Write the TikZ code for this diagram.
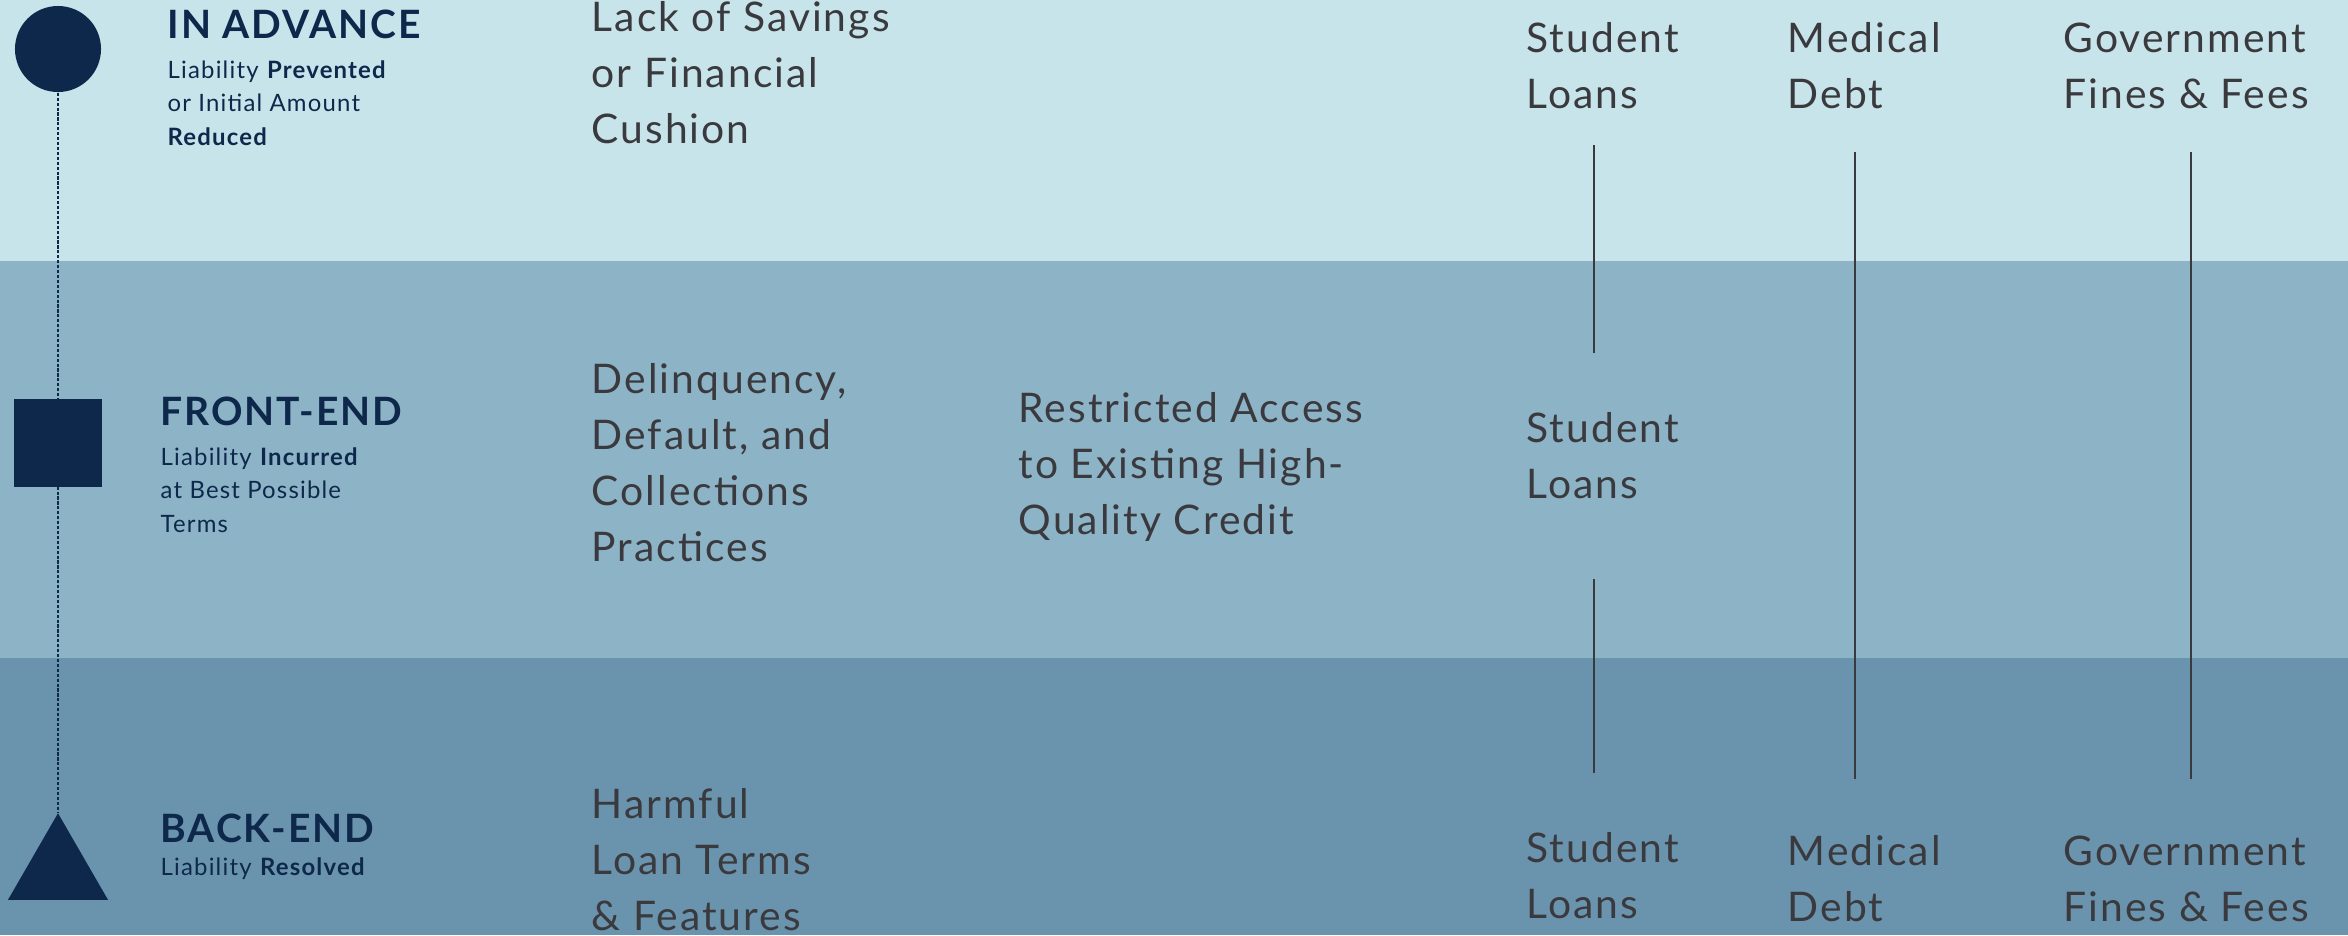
\documentclass[tikz,border=0pt]{standalone}
\usepackage{fontspec}
\setmainfont{Lato}[LetterSpace=5]
\usetikzlibrary{shapes.geometric}
\definecolor{navy}{RGB}{14,40,75}
\definecolor{ink}{RGB}{58,58,62}
\definecolor{bandtop}{RGB}{200,228,235}
\definecolor{bandmid}{RGB}{141,179,199}
\definecolor{bandlow}{RGB}{106,148,174}
\newcommand{\itemfont}{\fontsize{11.6pt}{15.9pt}\selectfont}
\newcommand{\headfont}{\fontsize{11.1pt}{15.9pt}\selectfont\bfseries}
\newcommand{\notefont}{\fontsize{6.8pt}{9.4pt}\selectfont}

\begin{document}
\begin{tikzpicture}[x=0.01cm,y=-0.01cm]
    \tikzstyle{head} = [anchor=base west, inner sep=0, text=navy, font=\headfont]
    \tikzstyle{note} = [anchor=base west, inner sep=0, text=navy, align=left, font=\notefont]
    \tikzstyle{item} = [anchor=base west, inner sep=0, text=ink, align=left, font=\itemfont]
    \tikzstyle{icon} = [fill=navy, inner sep=0]
    \tikzstyle{link} = [draw=ink, line width=0.6pt]
    \tikzstyle{timeline} = [draw=navy, line width=0.4pt, dash pattern=on 0.9pt off 0.5pt]
        \useasboundingbox (0,0) rectangle (2348,935);
        % bands
        \fill[bandtop] (0,0) rectangle (2348,261);
        \fill[bandmid] (0,261) rectangle (2348,658);
        \fill[bandlow] (0,658) rectangle (2348,935);
        % timeline
        \node[icon,circle,minimum size=0.86cm] (adv) at (58,49) {};
        \node[icon,regular polygon,regular polygon sides=3,minimum size=1.155cm] (back) at (58,871) {};
        \draw[timeline] (adv) -- (back);
        \node[icon,rectangle,minimum size=0.88cm] (front) at (58,443) {};
        % stage labels (base = last line)
        \node[head] (advh) at (167,38) {IN ADVANCE};
        \node[note] (advn) at (167,145) {Liability \textbf{Prevented}\\or Initial Amount\\\textbf{Reduced}};
        \node[head] (fronth) at (160,425) {FRONT-END};
        \node[note] (frontn) at (160,532) {Liability \textbf{Incurred}\\at Best Possible\\Terms};
        \node[head] (backh) at (160,842) {BACK-END};
        \node[note] (backn) at (160,875) {Liability \textbf{Resolved}};
        % problems
        \node[item] (savings) at (591,143) {Lack of Savings\\or Financial\\Cushion};
        \node[item] (collect) at (591,561) {Delinquency,\\Default, and\\Collections\\Practices};
        \node[item] (access) at (1018,534) {Restricted Access\\to Existing High-\\Quality Credit};
        \node[item] (harm) at (591,930) {Harmful\\Loan Terms\\\& Features};
        % debt types
        \node[item] (stuA) at (1526,108) {Student\\Loans};
        \node[item] (stuB) at (1526,498) {Student\\Loans};
        \node[item] (stuC) at (1526,918) {Student\\Loans};
        \node[item] (medA) at (1787,108) {Medical\\Debt};
        \node[item] (medC) at (1787,921) {Medical\\Debt};
        \node[item] (govA) at (2063,108) {Government\\Fines \& Fees};
        \node[item] (govC) at (2063,921) {Government\\Fines \& Fees};
        % spans
        \coordinate (s1) at (1594,145);
        \coordinate (s2) at (1594,353);
        \coordinate (s3) at (1594,579);
        \coordinate (s4) at (1594,773);
        \coordinate (m1) at (1855,152);
        \coordinate (m2) at (1855,779);
        \coordinate (g1) at (2191,152);
        \coordinate (g2) at (2191,779);
        \draw[link] (s1) -- (s2);
        \draw[link] (s3) -- (s4);
        \draw[link] (m1) -- (m2);
        \draw[link] (g1) -- (g2);
\end{tikzpicture}
\end{document}
